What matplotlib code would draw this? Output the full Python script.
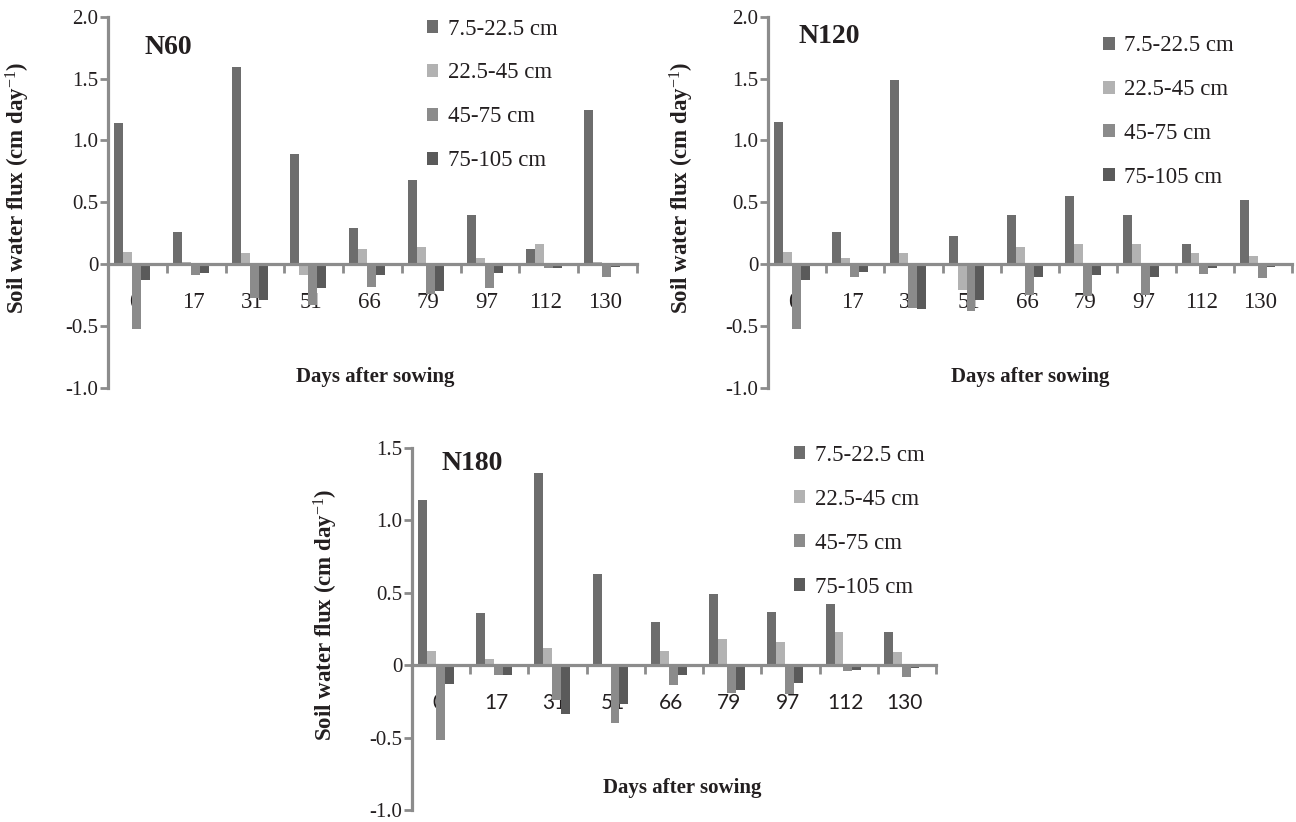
import numpy as np
import matplotlib
matplotlib.use("Agg")
import matplotlib.pyplot as plt
from matplotlib.ticker import FixedLocator

plt.rcParams['font.family'] = ['Liberation Serif', 'DejaVu Serif']
plt.rcParams['mathtext.fontset'] = 'custom'
plt.rcParams['mathtext.rm'] = 'Liberation Serif'
plt.rcParams['mathtext.it'] = 'Liberation Serif:italic'
plt.rcParams['mathtext.bf'] = 'Liberation Serif:bold'

days = ["0", "17", "31", "51", "66", "79", "97", "112", "130"]
layers = ["7.5-22.5 cm", "22.5-45 cm", "45-75 cm", "75-105 cm"]

n60_l1 = [1.14, 0.26, 1.59, 0.89, 0.29, 0.68, 0.40, 0.12, 1.25]
n60_l2 = [0.10, 0.02, 0.09, -0.09, 0.12, 0.14, 0.05, 0.16, 0.02]
n60_l3 = [-0.52, -0.09, -0.27, -0.33, -0.18, -0.24, -0.19, -0.03, -0.10]
n60_l4 = [-0.13, -0.07, -0.29, -0.19, -0.09, -0.22, -0.07, -0.03, -0.02]

n120_l1 = [1.15, 0.26, 1.49, 0.23, 0.40, 0.55, 0.40, 0.16, 0.52]
n120_l2 = [0.10, 0.05, 0.09, -0.21, 0.14, 0.16, 0.16, 0.09, 0.07]
n120_l3 = [-0.52, -0.10, -0.35, -0.38, -0.25, -0.26, -0.25, -0.08, -0.11]
n120_l4 = [-0.13, -0.06, -0.36, -0.29, -0.10, -0.09, -0.10, -0.03, -0.02]

n180_l1 = [1.14, 0.36, 1.33, 0.63, 0.30, 0.49, 0.37, 0.42, 0.23]
n180_l2 = [0.10, 0.04, 0.12, -0.01, 0.10, 0.18, 0.16, 0.23, 0.09]
n180_l3 = [-0.52, -0.07, -0.24, -0.40, -0.14, -0.19, -0.20, -0.04, -0.08]
n180_l4 = [-0.13, -0.07, -0.34, -0.27, -0.07, -0.17, -0.12, -0.03, -0.02]

colors = ["#6d6d6d", "#b2b2b2", "#8b8b8b", "#5a5a5a"]
axis_gray = "#8c8c8c"
txt = "#231f20"

fig = plt.figure(figsize=(12.96, 8.22), dpi=100)


def panel(rect, series, title, ylim, yticks, yticklabels, title_pos, leg_anchor,
          xlab_pos, ylab_x, xfont):
    ax = fig.add_axes(rect)
    x = np.arange(len(days))
    w = 0.153
    shift = -0.09
    for j, vals in enumerate(series):
        ax.bar(x + shift + (j - 1.5) * w, vals, width=w, color=colors[j],
               label=layers[j], zorder=2)
    ax.set_xlim(-0.5, len(days) - 0.5)
    ax.set_ylim(*ylim)
    for s in ['top', 'right']:
        ax.spines[s].set_visible(False)
    ax.spines['bottom'].set_position(('data', 0))
    for s in ['left', 'bottom']:
        ax.spines[s].set_color(axis_gray)
        ax.spines[s].set_linewidth(2.3)
        ax.spines[s].set_zorder(3)
    ax.set_yticks(yticks)
    ax.set_yticklabels(yticklabels, fontsize=15, color=txt)
    ax.tick_params(axis='y', direction='out', length=5.5, width=2.0,
                   color=axis_gray, pad=1.5)
    ax.set_xticks(x - 0.05)
    if xfont == 'serif':
        ax.set_xticklabels(days, fontsize=16.5, color=txt,
                           family=['Liberation Serif'])
    else:
        ax.set_xticklabels(days, fontsize=15, color=txt,
                           family=['Lato', 'DejaVu Sans'])
    ax.tick_params(axis='x', which='major', length=0, pad=20)
    ax.xaxis.set_minor_locator(FixedLocator(x + 0.5))
    ax.tick_params(axis='x', which='minor', direction='out', length=6.5,
                   width=2.0, color=axis_gray)
    ax.text(title_pos[0], title_pos[1], title, transform=ax.transAxes,
            fontsize=20, fontweight='bold', color=txt, ha='center', va='center')
    ax.text(xlab_pos[0], xlab_pos[1], "Days after sowing", transform=ax.transAxes,
            fontsize=15, fontweight='bold', color=txt, ha='center', va='center')
    ax.text(ylab_x, 0.54, "Soil water flux (cm day$^{-1}$)", transform=ax.transAxes,
            fontsize=16.5, fontweight='bold', color=txt, ha='center', va='center',
            rotation=90)
    leg = ax.legend(loc='upper left', bbox_to_anchor=leg_anchor, frameon=False,
                    fontsize=16.5, handlelength=0.5, handleheight=0.5,
                    handletextpad=0.4, labelspacing=1.0, borderpad=0,
                    borderaxespad=0)
    for t in leg.get_texts():
        t.set_color(txt)
    return ax


yt1 = [-1.0, -0.5, 0, 0.5, 1.0, 1.5, 2.0]
ytl1 = ["-1.0", "-0.5", "0", "0.5", "1.0", "1.5", "2.0"]
yt3 = [-1.0, -0.5, 0, 0.5, 1.0, 1.5]
ytl3 = ["-1.0", "-0.5", "0", "0.5", "1.0", "1.5"]

panel([108 / 1296, 1 - 388 / 822, 529 / 1296, 371.3 / 822],
      [n60_l1, n60_l2, n60_l3, n60_l4], "N60", (-1.0, 2.0), yt1, ytl1,
      (0.114, 0.916), (0.603, 0.995), (0.505, 0.03), -0.17, 'serif')
panel([768 / 1296, 1 - 388 / 822, 524 / 1296, 371.3 / 822],
      [n120_l1, n120_l2, n120_l3, n120_l4], "N120", (-1.0, 2.0), yt1, ytl1,
      (0.117, 0.948), (0.64, 0.95), (0.5, 0.03), -0.165, 'serif')
panel([412 / 1296, 1 - 810 / 822, 524 / 1296, 362 / 822],
      [n180_l1, n180_l2, n180_l3, n180_l4], "N180", (-1.0, 1.5), yt3, ytl3,
      (0.114, 0.957), (0.729, 1.008), (0.515, 0.06), -0.165, 'sans')

fig.savefig("out.png", dpi=100)
